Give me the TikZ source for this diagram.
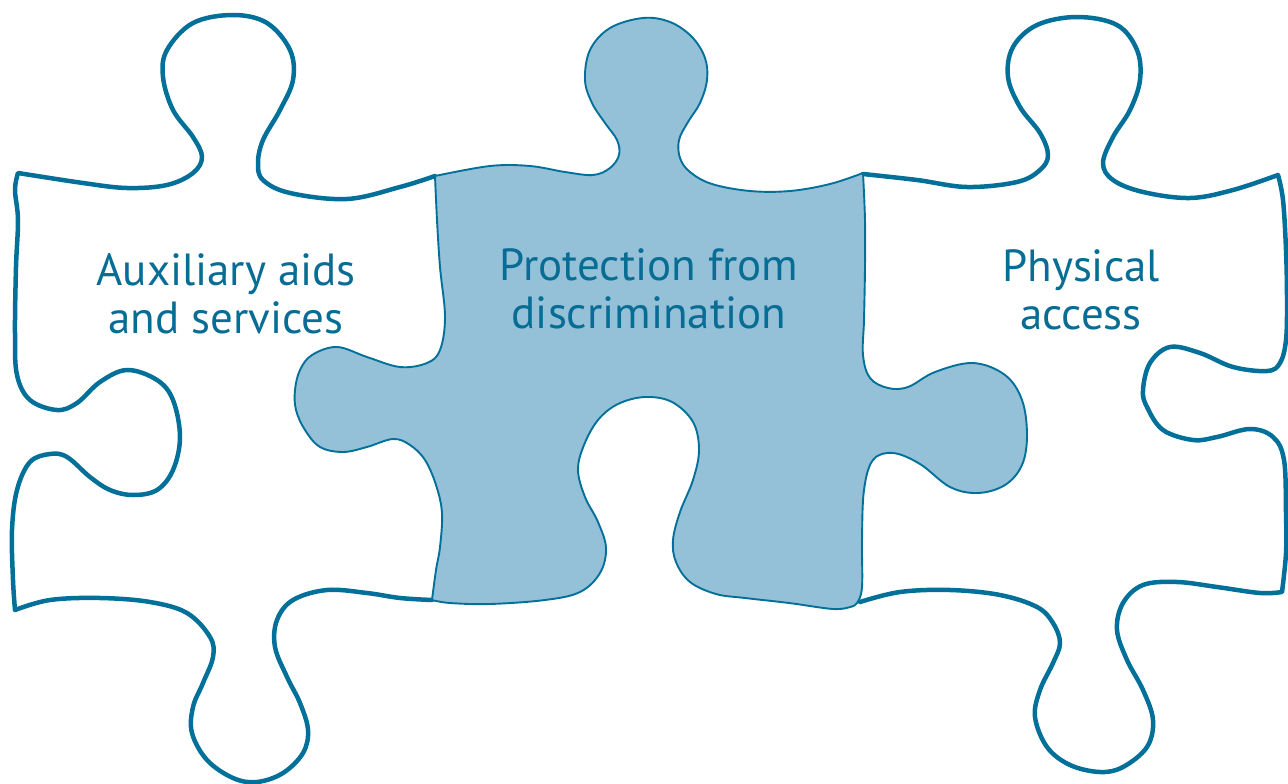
\documentclass[tikz,border=0pt]{standalone}
\usepackage{fontspec}
\setmainfont{PT Sans}
\definecolor{edge}{HTML}{03709A}
\definecolor{piecefill}{HTML}{94C0D8}
\definecolor{txt}{HTML}{086D95}
\begin{document}
\begin{tikzpicture}[x=1pt,y=-1pt,
  thickedge/.style={draw=edge,line width=4.5pt,line join=round,line cap=round},
  thinedge/.style={draw=edge,fill=piecefill,line width=1.9pt,line join=round},
  label/.style={text=txt,font=\fontsize{45}{48}\selectfont,align=center,anchor=base,inner sep=0pt}]
\useasboundingbox (0,0) rectangle (1288,784);
% left piece
\draw[thickedge] plot[smooth,tension=0.6] coordinates {(435,176) (400,187) (347,199) (290,193) (263,180) (258,163) (263,140) (280,110) (293,80) (290,50) (267,23) (233,15) (193,23) (167,50) (163,77) (173,110) (193,137) (202,157) (193,173) (167,185) (127,188) (83,183) (18,173)}
 -- plot[smooth,tension=0.6] coordinates {(18,173) (15,190) (18,220) (16,267) (15,333) (17,375) (30,400) (57,410) (77,403) (100,382) (127,370) (157,380) (173,400) (180,437) (173,470) (157,490) (133,495) (110,490) (90,477) (67,457) (50,454) (30,462) (17,490) (12,530) (13,580) (15,610)}
 -- plot[smooth,tension=0.6] coordinates {(15,610) (50,600) (100,598) (150,602) (187,613) (210,637) (213,657) (203,683) (193,707) (192,733) (207,760) (233,778) (257,782) (283,773) (303,753) (308,730) (300,703) (287,677) (275,647) (277,620) (293,600) (327,590) (367,593) (400,598) (432,600)};
% right piece
\draw[thickedge] plot[smooth,tension=0.6] coordinates {(863,174) (917,180) (967,187) (1017,182) (1040,170) (1048,155) (1040,133) (1020,107) (1008,77) (1013,47) (1037,25) (1077,17) (1117,25) (1137,50) (1140,80) (1130,110) (1113,137) (1103,163) (1113,180) (1143,192) (1190,198) (1233,190) (1278,175)}
 -- plot[smooth,tension=0.6] coordinates {(1278,175) (1283,200) (1286,250) (1287,300) (1286,340) (1280,363) (1267,371) (1233,367) (1200,353) (1170,347) (1150,363) (1143,390) (1147,407) (1163,430) (1193,440) (1217,437) (1250,429) (1273,437) (1284,460) (1286,513) (1286,553) (1282,592)}
 -- plot[smooth,tension=0.6] coordinates {(1282,592) (1260,593) (1217,587) (1177,582) (1143,585) (1123,603) (1117,630) (1127,660) (1143,690) (1153,720) (1147,747) (1123,767) (1100,772) (1070,765) (1047,747) (1035,717) (1040,690) (1053,663) (1060,643) (1053,623) (1037,607) (1000,595) (950,590) (900,592) (860,602)};
% middle piece
\draw[thinedge] plot[smooth,tension=0.6] coordinates {(435,176) (490,166) (530,166) (565,172) (593,175) (610,168) (619,155) (617,140) (605,123) (592,103) (585,80) (590,50) (610,28) (643,18) (670,22) (692,37) (705,58) (707,80) (700,103) (688,122) (679,140) (680,158) (690,172) (712,184) (750,191) (790,191) (830,184) (863,173)}
 -- plot[smooth,tension=0.6] coordinates {(863,173) (865,220) (865,267) (864,320) (863,355) (870,378) (888,388) (908,387) (935,372) (973,363) (1005,375) (1022,400) (1027,435) (1022,465) (1005,485) (978,493) (950,487) (920,464) (893,453) (873,460) (864,490) (862,540) (862,587) (857,603) (850,607)}
 -- plot[smooth,tension=0.6] coordinates {(850,607) (833,609) (789,603) (745,598) (716,594) (690,582) (676,562) (673,540) (680,512) (693,480) (699,450) (693,422) (672,402) (645,397) (618,404) (598,420) (584,445) (578,470) (585,497) (598,522) (606,548) (600,573) (580,592) (545,600) (490,604) (450,603) (432,600)}
 -- plot[smooth,tension=0.6] coordinates {(432,600) (436,570) (440,547) (442,513) (436,485) (425,460) (410,445) (393,439) (367,447) (343,452) (320,447) (305,430) (296,410) (295,390) (300,370) (312,355) (337,347) (367,357) (400,367) (427,363) (440,350) (445,317) (440,267) (437,220) (435,176)} -- cycle;
% labels
\node[label] (aux) at (226,333) {Auxiliary aids\\and services};
\node[label] (prot) at (649,328) {Protection from\\discrimination};
\node[label] (phys) at (1081,329) {Physical\\access};
\end{tikzpicture}
\end{document}
